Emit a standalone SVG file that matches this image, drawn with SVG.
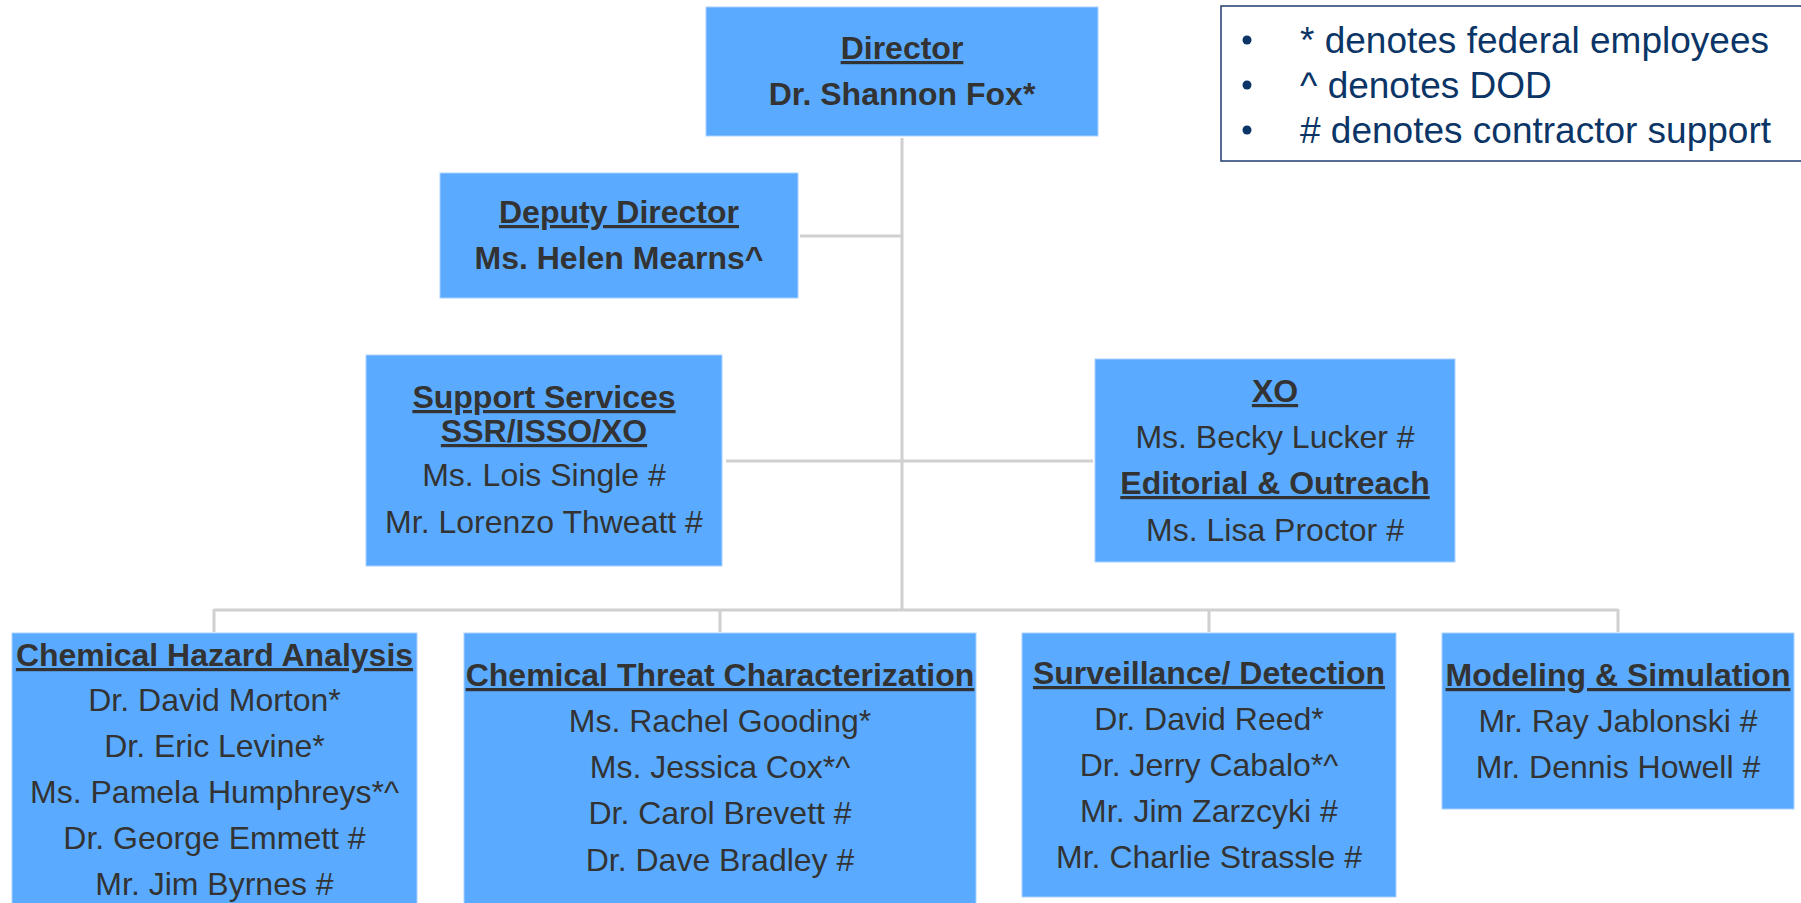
<svg xmlns="http://www.w3.org/2000/svg" width="1801" height="903" viewBox="0 0 1801 903">
<style>
.box{fill:#5aabff;stroke:#a9d1ff;stroke-width:1}
.t{font-family:"Liberation Sans",Arial,sans-serif;font-size:32px;fill:#333333;text-anchor:middle}
.b{font-weight:bold}
.u{font-weight:bold;text-decoration:underline}
.c{stroke:#d0d0d0;stroke-width:3;fill:none}
.lg{font-family:"Liberation Sans",Arial,sans-serif;font-size:37px;fill:#0b3566}
</style>
<rect width="1801" height="903" fill="#ffffff"/>
<g id="connectors">
<path class="c" d="M902 138V610"/>
<path class="c" d="M800 236H902"/>
<path class="c" d="M726 461H1093"/>
<path class="c" d="M214 610H1618M214 609V632M720 609V632M1209 609V632M1618 609V632"/>
</g>
<g id="legend">
<rect x="1221" y="6" width="600" height="155" fill="#ffffff" stroke="#1f3b6e" stroke-width="1.5"/>
<circle cx="1247" cy="40" r="4.5" fill="#0b3566"/>
<circle cx="1247" cy="85" r="4.5" fill="#0b3566"/>
<circle cx="1247" cy="130" r="4.5" fill="#0b3566"/>
<text class="lg" x="1300" y="53">* denotes federal employees</text>
<text class="lg" x="1300" y="98">^ denotes DOD</text>
<text class="lg" x="1300" y="143"># denotes contractor support</text>
</g>
<g id="director">
<rect class="box" x="706" y="7" width="392" height="129"/>
<text class="t u" x="902" y="59">Director</text>
<text class="t b" x="902" y="105">Dr. Shannon Fox*</text>
</g>
<g id="deputy">
<rect class="box" x="440" y="173" width="358" height="125"/>
<text class="t u" x="619" y="223">Deputy Director</text>
<text class="t b" x="619" y="269">Ms. Helen Mearns^</text>
</g>
<g id="support">
<rect class="box" x="366" y="355" width="356" height="211"/>
<text class="t u" x="544" y="408">Support Services</text>
<text class="t u" x="544" y="442">SSR/ISSO/XO</text>
<text class="t" x="544" y="486">Ms. Lois Single #</text>
<text class="t" x="544" y="533">Mr. Lorenzo Thweatt #</text>
</g>
<g id="xo">
<rect class="box" x="1095" y="359" width="360" height="203"/>
<text class="t u" x="1275" y="402">XO</text>
<text class="t" x="1275" y="448">Ms. Becky Lucker #</text>
<text class="t u" x="1275" y="494">Editorial &amp; Outreach</text>
<text class="t" x="1275" y="541">Ms. Lisa Proctor #</text>
</g>
<g id="hazard">
<rect class="box" x="12" y="633" width="405" height="280"/>
<text class="t u" x="214.5" y="666">Chemical Hazard Analysis</text>
<text class="t" x="214.5" y="711">Dr. David Morton*</text>
<text class="t" x="214.5" y="757">Dr. Eric Levine*</text>
<text class="t" x="214.5" y="803">Ms. Pamela Humphreys*^</text>
<text class="t" x="214.5" y="849">Dr. George Emmett #</text>
<text class="t" x="214.5" y="895">Mr. Jim Byrnes #</text>
</g>
<g id="threat">
<rect class="box" x="464" y="633" width="512" height="280"/>
<text class="t u" x="720" y="686">Chemical Threat Characterization</text>
<text class="t" x="720" y="732">Ms. Rachel Gooding*</text>
<text class="t" x="720" y="778">Ms. Jessica Cox*^</text>
<text class="t" x="720" y="824">Dr. Carol Brevett #</text>
<text class="t" x="720" y="871">Dr. Dave Bradley #</text>
</g>
<g id="surveillance">
<rect class="box" x="1022" y="633" width="374" height="264"/>
<text class="t u" x="1209" y="684">Surveillance/ Detection</text>
<text class="t" x="1209" y="730">Dr. David Reed*</text>
<text class="t" x="1209" y="776">Dr. Jerry Cabalo*^</text>
<text class="t" x="1209" y="822">Mr. Jim Zarzcyki #</text>
<text class="t" x="1209" y="868">Mr. Charlie Strassle #</text>
</g>
<g id="modeling">
<rect class="box" x="1442" y="633" width="352" height="176"/>
<text class="t u" x="1618" y="686">Modeling &amp; Simulation</text>
<text class="t" x="1618" y="732">Mr. Ray Jablonski #</text>
<text class="t" x="1618" y="778">Mr. Dennis Howell #</text>
</g>
</svg>
